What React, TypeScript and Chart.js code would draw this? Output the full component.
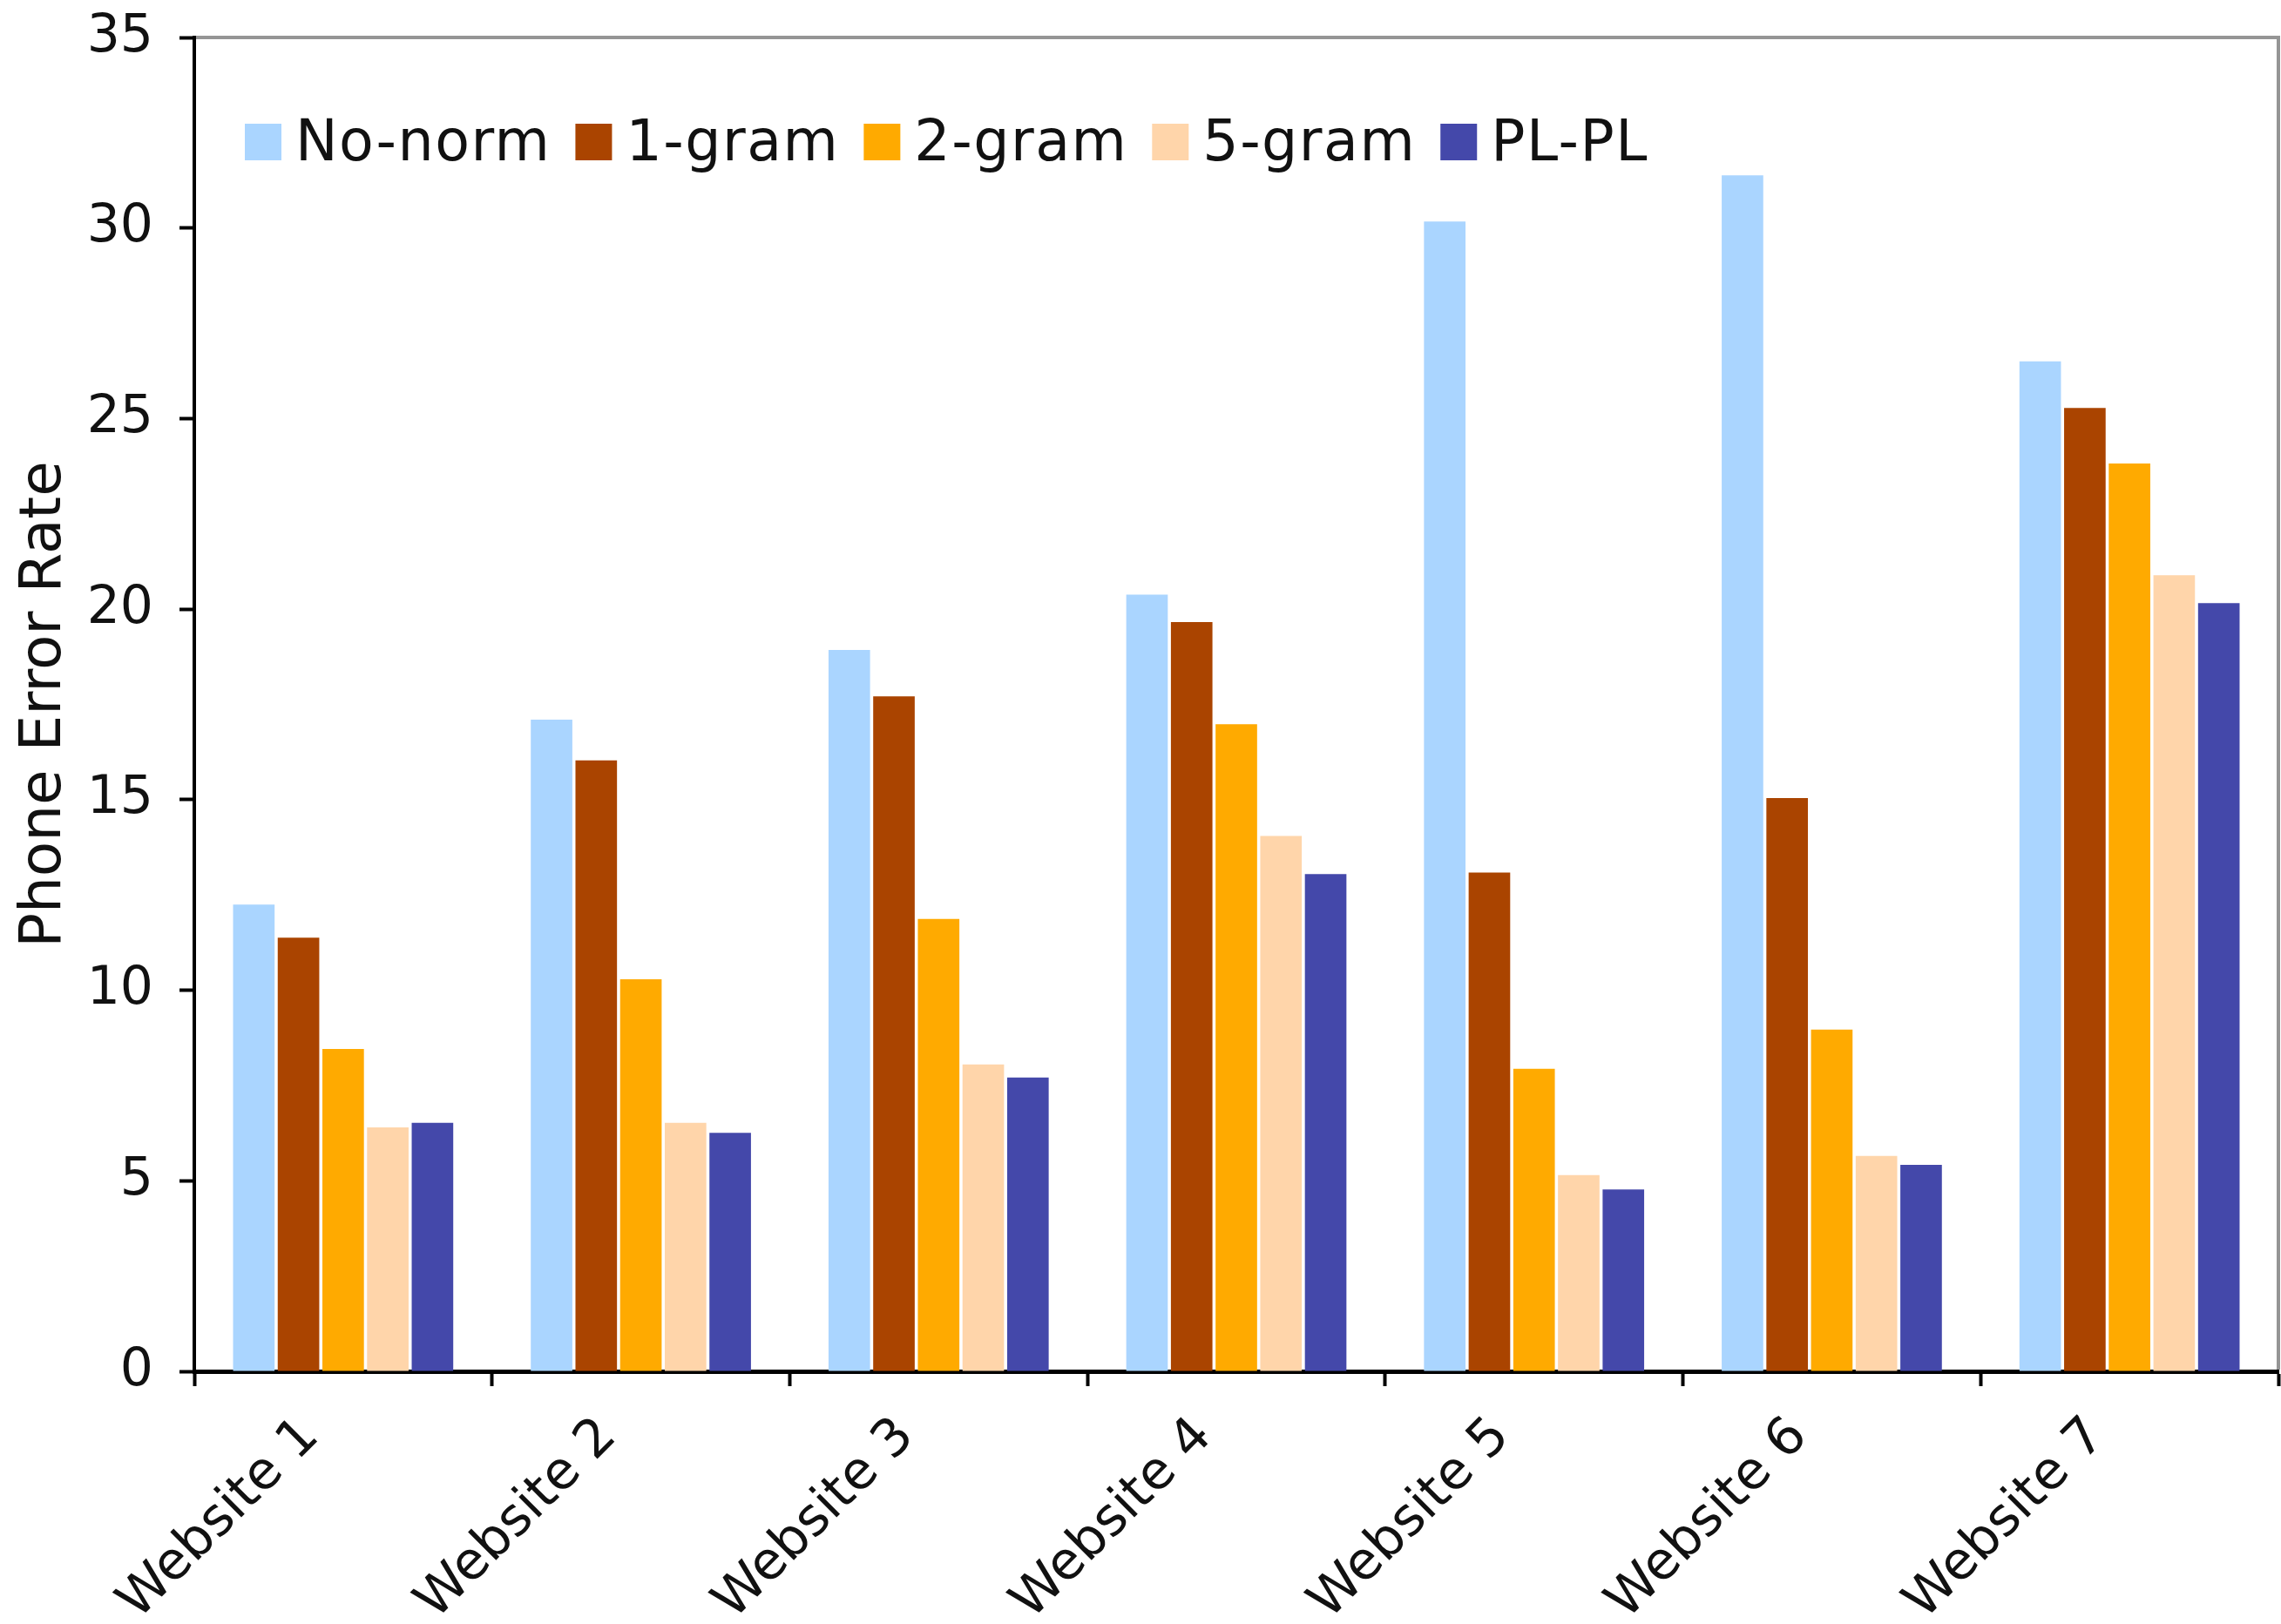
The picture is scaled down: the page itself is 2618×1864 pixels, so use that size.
import React, { useEffect, useRef } from "react";
import { Chart, registerables } from "chart.js";

Chart.register(...registerables);

const categories = ["Website 1", "Website 2", "Website 3", "Website 4", "Website 5", "Website 6", "Website 7"];
const seriesNames = ["No-norm", "1-gram", "2-gram", "5-gram", "PL-PL"];
const noNorm = [12.25, 17.1, 18.93, 20.38, 30.17, 31.38, 26.5];
const oneGram = [11.38, 16.03, 17.71, 19.66, 13.09, 15.04, 25.28];
const twoGram = [8.46, 10.29, 11.87, 16.98, 7.94, 8.97, 23.82];
const fiveGram = [6.4, 6.52, 8.05, 14.05, 5.15, 5.65, 20.89];
const plPl = [6.52, 6.26, 7.71, 13.05, 4.77, 5.42, 20.16];
const seriesColors = ["#AAD5FF", "#AA4400", "#FFAA00", "#FFD5AA", "#4448AA"];
const yMin = 0;
const yMax = 35;
const yStep = 5;
const yTitle = "Phone Error Rate";

const FONT = "'DejaVu Sans', Verdana, sans-serif";

const frameLegendPlugin = {
  id: "frameLegend",
  afterDraw(chart: any) {
    const { ctx, chartArea: a } = chart;
    ctx.save();
    ctx.strokeStyle = "#959595";
    ctx.lineWidth = 4;
    ctx.beginPath();
    ctx.moveTo(a.left + 2, a.top);
    ctx.lineTo(a.right, a.top);
    ctx.lineTo(a.right, a.bottom - 2);
    ctx.stroke();

    ctx.font = `65px ${FONT}`;
    try {
      (ctx as any).letterSpacing = "1.5px";
    } catch (e) {}
    ctx.textBaseline = "alphabetic";
    ctx.textAlign = "left";
    const box = 42;
    const boxTop = a.top + 99;
    let x = a.left + 58;
    chart.data.datasets.forEach((ds: any) => {
      ctx.fillStyle = ds.backgroundColor;
      ctx.fillRect(x, boxTop, box, box);
      ctx.fillStyle = "#111";
      ctx.fillText(ds.label, x + box + 16, boxTop + box);
      x += box + 16 + ctx.measureText(ds.label).width + 28;
    });
    ctx.restore();
  },
};

export default function App() {
  const ref = useRef<HTMLCanvasElement | null>(null);
  useEffect(() => {
    if (!ref.current) return;
    const seriesValues = [noNorm, oneGram, twoGram, fiveGram, plPl];
    const chart = new Chart(ref.current, {
      type: "bar",
      data: {
        labels: categories,
        datasets: seriesNames.map((name, i) => ({
          label: name,
          data: seriesValues[i],
          backgroundColor: seriesColors[i],
          borderWidth: 0,
          categoryPercentage: 0.75,
          barPercentage: 0.93,
        })),
      },
      options: {
        responsive: false,
        animation: false,
        devicePixelRatio: 1,
        layout: { padding: { top: 43, right: 3, left: 0, bottom: 0 } },
        plugins: {
          legend: { display: false },
          tooltip: { enabled: false },
        },
        scales: {
          x: {
            grid: {
              display: true,
              drawOnChartArea: false,
              drawTicks: true,
              tickLength: 17,
              tickWidth: 4,
              tickColor: "#000",
              offset: true,
            },
            border: { display: true, color: "#000", width: 5 },
            ticks: {
              font: { family: FONT, size: 60 },
              color: "#111",
              minRotation: 45,
              maxRotation: 45,
              padding: 23,
              labelOffset: -37,
              autoSkip: false,
            },
            afterFit: (s: any) => {
              s.height = 290;
              s.paddingLeft = 0;
              s.paddingRight = 0;
            },
          },
          y: {
            min: yMin,
            max: yMax,
            grid: {
              display: true,
              drawOnChartArea: false,
              drawTicks: true,
              tickLength: 17,
              tickWidth: 4,
              tickColor: "#000",
            },
            border: { display: true, color: "#000", width: 4 },
            ticks: {
              stepSize: yStep,
              font: { family: FONT, size: 60 },
              color: "#111",
              padding: 30,
            },
            title: {
              display: true,
              text: yTitle,
              font: { family: FONT, size: 66 },
              color: "#111",
              padding: { top: 12, bottom: 0 },
            },
            afterFit: (s: any) => {
              s.width = 223;
              s.paddingTop = 0;
              s.paddingBottom = 0;
            },
          },
        },
      },
      plugins: [frameLegendPlugin],
    });
    return () => chart.destroy();
  }, []);
  return (
    <div style={{ position: "absolute", left: 0, top: 0, width: 2618, height: 1864, background: "#fff" }}>
      <canvas ref={ref} width={2618} height={1864} style={{ display: "block" }} />
    </div>
  );
}
